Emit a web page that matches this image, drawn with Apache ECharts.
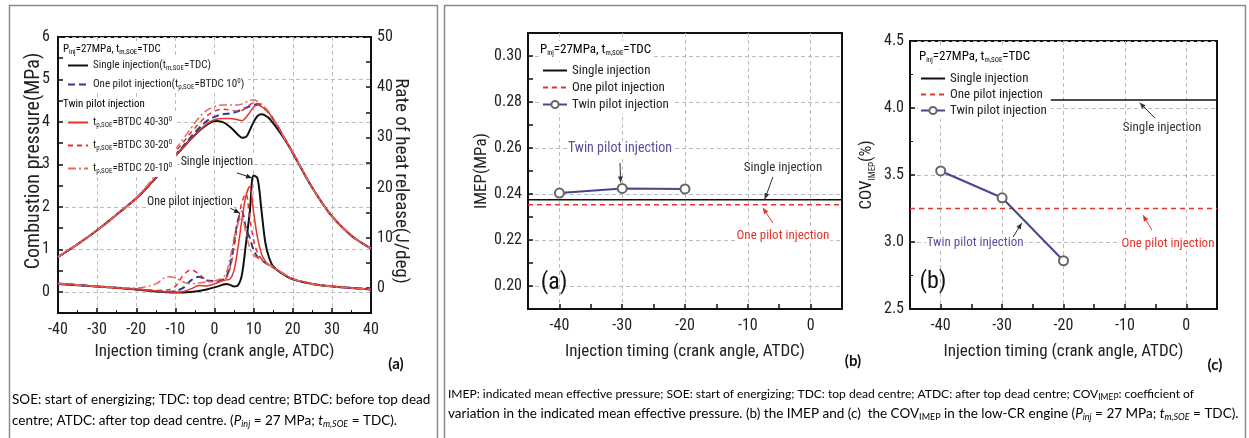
<!DOCTYPE html>
<html><head><meta charset="utf-8">
<script src="https://cdn.jsdelivr.net/npm/echarts@6/dist/echarts.min.js"></script>
<style>html,body{margin:0;padding:0;background:#fff}#c{width:1249px;height:438px}</style>
</head><body><div id="c"></div>
<script>
const NARROW = "'Liberation Sans Narrow','Arial Narrow','Roboto Condensed',Roboto,'Liberation Sans',sans-serif";
const CAP = "Lato,'Noto Sans',sans-serif";

// ---------- Panel (a): pressure (MPa) and heat release rate (J/deg) ----------
const pressX    = [-40,-35,-30,-25,-20,-15,-10,-8,-6,-4,-2,0,2,4,6,7,8,9,10,11,12,13,14,16,18,20,25,30,35,40];
const pSingle   = [0.82,1.12,1.45,1.82,2.20,2.68,3.20,3.40,3.60,3.78,3.93,4.02,4.00,3.88,3.70,3.63,3.64,3.80,4.00,4.14,4.18,4.15,4.08,3.85,3.58,3.27,2.45,1.78,1.32,1.02];
const pOnePilot = [0.82,1.12,1.45,1.82,2.20,2.68,3.22,3.43,3.65,3.85,4.02,4.12,4.18,4.20,4.25,4.30,4.33,4.37,4.40,4.42,4.38,4.30,4.20,3.92,3.60,3.28,2.45,1.78,1.32,1.02];
const pTwin4030 = [0.82,1.12,1.45,1.82,2.20,2.68,3.20,3.40,3.60,3.78,3.95,4.05,4.08,4.08,4.05,4.03,4.10,4.22,4.35,4.40,4.36,4.30,4.20,3.92,3.60,3.28,2.45,1.78,1.32,1.02];
const pTwin3020 = [0.82,1.12,1.45,1.82,2.20,2.70,3.30,3.52,3.75,3.96,4.14,4.25,4.30,4.28,4.25,4.27,4.33,4.40,4.45,4.44,4.38,4.30,4.20,3.92,3.60,3.28,2.45,1.78,1.32,1.02];
const pTwin2010 = [0.82,1.12,1.45,1.82,2.22,2.75,3.35,3.60,3.85,4.10,4.27,4.36,4.40,4.40,4.40,4.42,4.46,4.50,4.52,4.48,4.42,4.33,4.22,3.93,3.60,3.28,2.45,1.78,1.32,1.02];

const hrrX      = [-40,-30,-20,-15,-12,-10,-8,-6,-4,-2,0,2,3,4,5,6,7,8,9,10,11,12,13,14,15,17,20,25,30,35,40];
const hSingle   = [0.8,0.3,-0.3,-0.7,-0.85,-0.9,-0.9,-0.8,-0.6,-0.3,0.1,0.6,0.8,0.6,0.3,0.5,2.6,8.6,15.0,22.4,21.8,15.5,9.0,5.9,4.3,3.0,1.7,0.8,0.3,0.0,-0.3];
const hOnePilot = [0.9,0.3,-0.3,-0.6,-0.8,-0.6,0.0,1.5,2.2,1.5,1.4,1.6,2.2,4.5,9.0,13.5,15.2,12.0,10.0,7.5,6.2,5.5,5.0,4.5,4.1,3.1,1.8,0.8,0.3,0.0,-0.3];
const hTwin4030 = [0.9,0.3,-0.3,-0.6,-0.8,-0.9,-0.7,-0.2,0.5,0.4,0.8,1.4,1.6,1.8,3.5,8.0,13.5,18.2,20.2,15.0,10.0,6.8,5.3,4.6,4.1,3.1,1.8,0.8,0.3,0.0,-0.3];
const hTwin3020 = [0.9,0.3,-0.2,-0.5,-0.4,0.3,2.5,3.6,2.8,1.5,1.2,1.5,2.0,4.0,8.0,13.0,17.0,18.8,14.0,9.5,7.0,5.8,5.0,4.5,4.1,3.1,1.8,0.8,0.3,0.0,-0.3];
const hTwin2010 = [0.9,0.3,0.0,0.8,2.2,2.0,1.2,0.8,1.0,1.2,1.4,2.0,3.0,6.0,10.0,13.0,14.0,11.0,8.0,6.5,6.0,5.5,5.0,4.6,4.2,3.2,1.8,0.8,0.3,0.0,-0.3];

const ticksA_x  = [-40,-30,-20,-10,0,10,20,30,40];
const ticksA_yL = [0,1,2,3,4,5,6];
const ticksA_yR = [0,10,20,30,40,50];

// ---------- Panel (b): IMEP ----------
const imepX        = [-40,-30,-20];
const imepTwin     = [0.2404,0.2424,0.2422];
const imepSpanX    = [-45,5];
const imepSingle   = [0.2375,0.2375];
const imepOnePilot = [0.2353,0.2353];
const ticksB_x = [-40,-30,-20,-10,0];
const ticksB_y = ['0.20','0.22','0.24','0.26','0.28','0.30'];

// ---------- Panel (c): COV of IMEP ----------
const covX          = [-40,-30,-20];
const covTwin       = [3.53,3.33,2.86];
const covSingleX    = [-24.4,5];
const covSingle     = [4.06,4.06];
const covOnePilotX  = [-45,5];
const covOnePilot   = [3.25,3.25];
const ticksC_x = [-40,-30,-20,-10,0];
const ticksC_y = ['2.5','3.0','3.5','4.0','4.5'];

// annotations (data coordinates): text centre, arrow from -> to
const notesA = [
  {text:'Single injection', at:[0.6,3.06], from:[5.75,2.8], to:[9.6,2.68], color:'#222', arrow:'#222', size:12},
  {text:'One pilot injection', at:[-6.3,2.11], from:[4.0,1.97], to:[6.5,1.85], color:'#222', arrow:'#222', size:12}
];
const notesB = [
  {text:'Twin pilot injection', at:[-30.35,0.2596], from:[-30.35,0.2535], to:[-30.25,0.2450], color:'#5a4f9c', arrow:'#333', size:14},
  {text:'Single injection', at:[-4.4,0.2513], from:[-6.0,0.2474], to:[-7.3,0.2377], color:'#333', arrow:'#333', size:13},
  {text:'One pilot injection', at:[-4.4,0.2217], from:[-6.0,0.2274], to:[-7.6,0.2340], color:'#e3342c', arrow:'#e3342c', size:13}
];
const notesC = [
  {text:'Single injection', at:[-3.96,3.851], from:[-5.1,3.925], to:[-7.6,4.04], color:'#333', arrow:'#333', size:13},
  {text:'One pilot injection', at:[-2.98,2.985], from:[-5.6,3.09], to:[-7.05,3.20], color:'#e3342c', arrow:'#e3342c', size:13},
  {text:'Twin pilot injection', at:[-34.4,2.993], from:[-28.2,3.037], to:[-26.8,3.142], color:'#5a4f9c', arrow:'#333', size:13}
];

const BLACK='#111', NAVY='#2d3a8e', RED='#e3342c', RED2='#e56a5e', TWIN='#46468e', GRIDC='#bdbdbd';
const zip = (xs, ys) => xs.map((x,i)=>[x, ys[i]]);

const rich = {
  n:{fontSize:11, lineHeight:13, fontFamily:NARROW, color:'#222'},
  s:{fontSize:7, lineHeight:7, verticalAlign:'bottom', fontFamily:NARROW, color:'#222'},
  u:{fontSize:7, lineHeight:7, verticalAlign:'top', fontFamily:NARROW, color:'#222'},
  m:{fontSize:13, lineHeight:14, fontFamily:NARROW, color:'#222'}
};
const NA = {
  single:'Single injection(tm,SOE=TDC)', one:'One pilot injection(tp,SOE=BTDC 10°)',
  t1:'tp,SOE=BTDC 40-30°', t2:'tp,SOE=BTDC 30-20°', t3:'tp,SOE=BTDC 20-10°'
};
const NA_RICH = {};
NA_RICH[NA.single] = '{n|Single injection(t}{s|m,SOE}{n|=TDC)}';
NA_RICH[NA.one] = '{n|One pilot injection(t}{s|p,SOE}{n|=BTDC 10}{u|0}{n|)}';
NA_RICH[NA.t1] = '{n|t}{s|p,SOE}{n|=BTDC 40-30}{u|0}';
NA_RICH[NA.t2] = '{n|t}{s|p,SOE}{n|=BTDC 30-20}{u|0}';
NA_RICH[NA.t3] = '{n|t}{s|p,SOE}{n|=BTDC 20-10}{u|0}';

function pickLabel(list){ return v => { const r = Math.round(v); return (Math.abs(v-r)<1e-6 && list.includes(r)) ? String(r) : ''; }; }
function pickFixed(list, d){ return v => { const s = v.toFixed(d); return list.includes(s) ? s : ''; }; }

const axLine = {show:true, onZero:false, lineStyle:{color:BLACK, width:2}};
const axTick = {show:true, inside:true, length:5, lineStyle:{color:BLACK, width:1.5}};
const lblStyle = {fontFamily:NARROW, fontSize:16, color:'#222'};
const nameStyle = {fontFamily:NARROW, fontSize:17, color:'#222'};
const dashGrid = (colors) => ({show:true, lineStyle:{color:colors, type:[4,3], width:1}});
const noSym = {itemStyle:{color:'rgba(0,0,0,0)', borderColor:'rgba(0,0,0,0)', borderWidth:0, opacity:0}};

const chart = echarts.init(document.getElementById('c'), null, {renderer:'canvas'});

const lineS = (name, xi, yi, data, color, width, type, extra) => Object.assign({
  type:'line', name, xAxisIndex:xi, yAxisIndex:yi, data, symbol:'none', smooth:0.35,
  lineStyle:{color, width, type}, itemStyle:{color}, emphasis:{disabled:true}, animation:false
}, extra||{});

const twinExtra = {smooth:false, symbol:'emptyCircle', symbolSize:9, itemStyle:{color:'#666', borderWidth:1.2}};
const series = [
  lineS(NA.single,0,0,zip(pressX,pSingle),BLACK,2,'solid'),
  lineS(NA.one,0,0,zip(pressX,pOnePilot),NAVY,2,[7,4]),
  lineS(NA.t1,0,0,zip(pressX,pTwin4030),RED,1.5,'solid'),
  lineS(NA.t2,0,0,zip(pressX,pTwin3020),RED,1.5,[5,4]),
  lineS(NA.t3,0,0,zip(pressX,pTwin2010),RED2,1.5,[8,3,2,3]),
  lineS(NA.single,0,1,zip(hrrX,hSingle),BLACK,2,'solid'),
  lineS(NA.one,0,1,zip(hrrX,hOnePilot),NAVY,2,[7,4]),
  lineS(NA.t1,0,1,zip(hrrX,hTwin4030),RED,1.5,'solid'),
  lineS(NA.t2,0,1,zip(hrrX,hTwin3020),RED,1.5,[5,4]),
  lineS(NA.t3,0,1,zip(hrrX,hTwin2010),RED2,1.5,[8,3,2,3]),
  // panel b
  lineS('Single injection',1,2,zip(imepSpanX,imepSingle),BLACK,1.5,'solid',{smooth:false}),
  lineS('One pilot injection',1,2,zip(imepSpanX,imepOnePilot),RED,1.5,[5,4],{smooth:false}),
  lineS('Twin pilot injection',1,2,zip(imepX,imepTwin),TWIN,2,'solid',twinExtra),
  // panel c
  lineS('Single injection',2,3,zip(covSingleX,covSingle),BLACK,1.5,'solid',{smooth:false}),
  lineS('One pilot injection',2,3,zip(covOnePilotX,covOnePilot),RED,1.5,[5,4],{smooth:false}),
  lineS('Twin pilot injection',2,3,zip(covX,covTwin),TWIN,2,'solid',twinExtra)
];

const legBase = {orient:'vertical', itemWidth:20, itemHeight:9, backgroundColor:'#fff', padding:[2,4,2,2], selectedMode:false,
  textStyle:{rich}};
const bcItems = [
  Object.assign({name:'Single injection'}, noSym),
  Object.assign({name:'One pilot injection'}, noSym),
  {name:'Twin pilot injection'}
];

const option = {
  animation:false,
  backgroundColor:'#fff',
  grid:[
    {left:58, top:37, width:313, height:276, show:true, borderColor:BLACK, borderWidth:2, backgroundColor:'transparent'},
    {left:528, top:33, width:314, height:276, show:true, borderColor:BLACK, borderWidth:2, backgroundColor:'transparent'},
    {left:910, top:41, width:307, height:268, show:true, borderColor:BLACK, borderWidth:2, backgroundColor:'transparent'}
  ],
  xAxis:[
    {type:'value', gridIndex:0, min:-40, max:40, interval:10, axisLine:axLine, axisTick:axTick,
     minorTick:{show:true, splitNumber:2, length:3, lineStyle:{color:BLACK}},
     axisLabel:Object.assign({formatter:pickLabel(ticksA_x), margin:9}, lblStyle),
     splitLine:dashGrid([GRIDC]),
     name:'Injection timing (crank angle, ATDC)', nameLocation:'middle', nameGap:30, nameTextStyle:nameStyle},
    {type:'value', gridIndex:1, min:-45, max:5, interval:5, axisLine:axLine, axisTick:axTick,
     axisLabel:Object.assign({formatter:pickLabel(ticksB_x), margin:9}, lblStyle),
     splitLine:dashGrid(['rgba(0,0,0,0)',GRIDC]),
     name:'Injection timing (crank angle, ATDC)', nameLocation:'middle', nameGap:34, nameTextStyle:nameStyle},
    {type:'value', gridIndex:2, min:-45, max:5, interval:5, axisLine:axLine, axisTick:axTick,
     axisLabel:Object.assign({formatter:pickLabel(ticksC_x), margin:9}, lblStyle),
     splitLine:dashGrid(['rgba(0,0,0,0)',GRIDC]),
     name:'Injection timing (crank angle, ATDC)', nameLocation:'middle', nameGap:34, nameTextStyle:nameStyle}
  ],
  yAxis:[
    {type:'value', gridIndex:0, min:-0.5, max:6, interval:0.5, axisLine:axLine, axisTick:axTick,
     axisLabel:Object.assign({formatter:pickLabel(ticksA_yL), margin:8}, lblStyle),
     splitLine:dashGrid(['rgba(0,0,0,0)',GRIDC]),
     name:'Combustion pressure(MPa)', nameLocation:'middle', nameGap:14, nameMoveOverlap:false,
     nameTextStyle:Object.assign({}, nameStyle, {fontSize:20, padding:[0,0,0,28]})},
    {type:'value', gridIndex:0, position:'right', min:-5, max:50, interval:5, axisLine:axLine, axisTick:axTick,
     axisLabel:Object.assign({formatter:pickLabel(ticksA_yR), margin:6}, lblStyle),
     splitLine:{show:false},
     name:'Rate of heat release(J/deg)', nameLocation:'middle', nameGap:20, nameMoveOverlap:false, nameRotate:-90,
     nameTextStyle:Object.assign({}, nameStyle, {fontSize:19, padding:[0,0,0,12]})},
    {type:'value', gridIndex:1, min:0.19, max:0.31, interval:0.01, axisLine:axLine, axisTick:axTick,
     axisLabel:Object.assign({formatter:pickFixed(ticksB_y,2), margin:6}, lblStyle),
     splitLine:dashGrid(['rgba(0,0,0,0)',GRIDC]),
     name:'IMEP(MPa)', nameLocation:'middle', nameGap:36, nameTextStyle:nameStyle},
    {type:'value', gridIndex:2, min:2.5, max:4.5, interval:0.5, axisLine:axLine, axisTick:axTick,
     minorTick:{show:true, splitNumber:2, length:3, lineStyle:{color:BLACK}},
     axisLabel:Object.assign({formatter:pickFixed(ticksC_y,1), margin:6}, lblStyle),
     splitLine:dashGrid([GRIDC]),
     name:'{a|COV}{b|IMEP}{a|(%)}', nameLocation:'middle', nameGap:33,
     nameTextStyle:Object.assign({}, nameStyle, {rich:{a:{fontFamily:NARROW, fontSize:17, lineHeight:20, color:'#222'}, b:{fontFamily:NARROW, fontSize:9, lineHeight:9, verticalAlign:'bottom', color:'#222'}}})}
  ],
  legend:[
    Object.assign({}, legBase, {left:65, top:58, itemGap:6, itemStyle:noSym.itemStyle, data:[NA.single, NA.one], formatter:n=>NA_RICH[n]}),
    Object.assign({}, legBase, {left:65, top:114, itemGap:10, itemStyle:noSym.itemStyle, data:[NA.t1, NA.t2, NA.t3], formatter:n=>NA_RICH[n]}),
    Object.assign({}, legBase, {left:540, top:62, itemWidth:24, itemGap:4, data:bcItems, formatter:n=>'{m|'+n+'}'}),
    Object.assign({}, legBase, {left:918, top:70, itemWidth:24, itemGap:3, data:bcItems, formatter:n=>'{m|'+n+'}'})
  ],
  series
};
chart.setOption(option);

// ---------- overlay text, annotations, frames ----------
const pRich = '{n|P}{s|inj}{n|=27MPa, t}{s|m,SOE}{n|=TDC}';
const pRichB = '{m|P}{s|inj}{m|=27MPa, t}{s|m,SOE}{m|=TDC}';
const capRich = {
  r:{fontFamily:CAP, fontSize:13.5, lineHeight:16, color:'#111'},
  i:{fontFamily:CAP, fontSize:13.5, lineHeight:16, fontStyle:'italic', color:'#111'},
  is:{fontFamily:CAP, fontSize:9, lineHeight:9, fontStyle:'italic', verticalAlign:'bottom', color:'#111'},
  sb:{fontFamily:CAP, fontSize:9, lineHeight:9, verticalAlign:'bottom', color:'#111'},
  r2:{fontFamily:CAP, fontSize:12.05, lineHeight:16, color:'#111'},
  sb2:{fontFamily:CAP, fontSize:8.5, lineHeight:8, verticalAlign:'bottom', color:'#111'}
};

const elements = [];
// frames
elements.push({type:'rect', shape:{x:9.5, y:5.5, width:428, height:440}, style:{fill:'none', stroke:'#8a8a8a', lineWidth:1.5}, z:1});
elements.push({type:'rect', shape:{x:444.5, y:5.5, width:801, height:440}, style:{fill:'none', stroke:'#8a8a8a', lineWidth:1.5}, z:1});

// legend headers
elements.push({type:'text', x:63, y:49, z:100, style:{text:pRich, rich, align:'left', verticalAlign:'middle', backgroundColor:'#fff'}});
elements.push({type:'text', x:63, y:104, z:100, style:{text:'{n|Twin pilot injection}', rich, align:'left', verticalAlign:'middle', backgroundColor:'#fff'}});
elements.push({type:'text', x:540, y:50, z:100, style:{text:pRichB, rich, align:'left', verticalAlign:'middle', backgroundColor:'#fff', padding:[2,2,2,0]}});
elements.push({type:'text', x:919, y:57, z:100, style:{text:pRichB, rich, align:'left', verticalAlign:'middle', backgroundColor:'#fff', padding:[2,2,2,0]}});

// panel letters
elements.push({type:'text', x:554, y:283, z:100, style:{text:'(a)', font:'24px '+NARROW, fill:'#111', align:'center', verticalAlign:'middle'}});
elements.push({type:'text', x:933, y:282, z:100, style:{text:'(b)', font:'24px '+NARROW, fill:'#111', align:'center', verticalAlign:'middle'}});
elements.push({type:'text', x:396, y:364, z:100, style:{text:'(a)', font:'bold 15px '+CAP, fill:'#111', align:'center', verticalAlign:'middle'}});
elements.push({type:'text', x:853, y:361, z:100, style:{text:'(b)', font:'bold 15px '+CAP, fill:'#111', align:'center', verticalAlign:'middle'}});
elements.push({type:'text', x:1215, y:365, z:100, style:{text:'(c)', font:'bold 15px '+CAP, fill:'#111', align:'center', verticalAlign:'middle'}});

// captions
elements.push({type:'text', x:12, y:400, z:100, style:{text:'{r|SOE: start of energizing; TDC: top dead centre; BTDC: before top dead}', rich:capRich, align:'left', verticalAlign:'middle'}});
elements.push({type:'text', x:12, y:421, z:100, style:{text:'{r|centre; ATDC: after top dead centre. (}{i|P}{is|inj}{r| = 27 MPa; }{i|t}{is|m,SOE}{r| = TDC).}', rich:capRich, align:'left', verticalAlign:'middle'}});
elements.push({type:'text', x:448, y:394, z:100, style:{text:'{r2|IMEP: indicated mean effective pressure; SOE: start of energizing; TDC: top dead centre; ATDC: after top dead centre; COV}{sb2|IMEP}{r2|: coefficient of}', rich:capRich, align:'left', verticalAlign:'middle'}});
elements.push({type:'text', x:448, y:414, z:100, style:{text:'{r|variation in the indicated mean effective pressure. (b) the IMEP and (c)  the COV}{sb|IMEP}{r| in the low-CR engine (}{i|P}{is|inj}{r| = 27 MPa; }{i|t}{is|m,SOE}{r| = TDC).}', rich:capRich, align:'left', verticalAlign:'middle'}});

function addNotes(notes, seriesIndex){
  notes.forEach(nt=>{
    const p = chart.convertToPixel({seriesIndex}, nt.at);
    const a = chart.convertToPixel({seriesIndex}, nt.from);
    const b = chart.convertToPixel({seriesIndex}, nt.to);
    elements.push({type:'text', x:p[0], y:p[1], z:90, style:{text:nt.text, font:nt.size+'px '+NARROW, fill:nt.color, align:'center', verticalAlign:'middle', backgroundColor:'#fff', padding:[0,1]}});
    elements.push({type:'line', z:91, shape:{x1:a[0], y1:a[1], x2:b[0], y2:b[1]}, style:{stroke:nt.arrow, lineWidth:1}});
    const ang = Math.atan2(b[1]-a[1], b[0]-a[0]);
    const L = 6, W = 2.5;
    const bx = b[0]-L*Math.cos(ang), by = b[1]-L*Math.sin(ang);
    elements.push({type:'polygon', z:91, shape:{points:[[b[0],b[1]],[bx+W*Math.sin(ang), by-W*Math.cos(ang)],[bx-W*Math.sin(ang), by+W*Math.cos(ang)]]}, style:{fill:nt.arrow}});
  });
}
addNotes(notesA, 0);
addNotes(notesB, 10);
addNotes(notesC, 13);

chart.setOption({graphic:{elements}});
</script></body></html>
